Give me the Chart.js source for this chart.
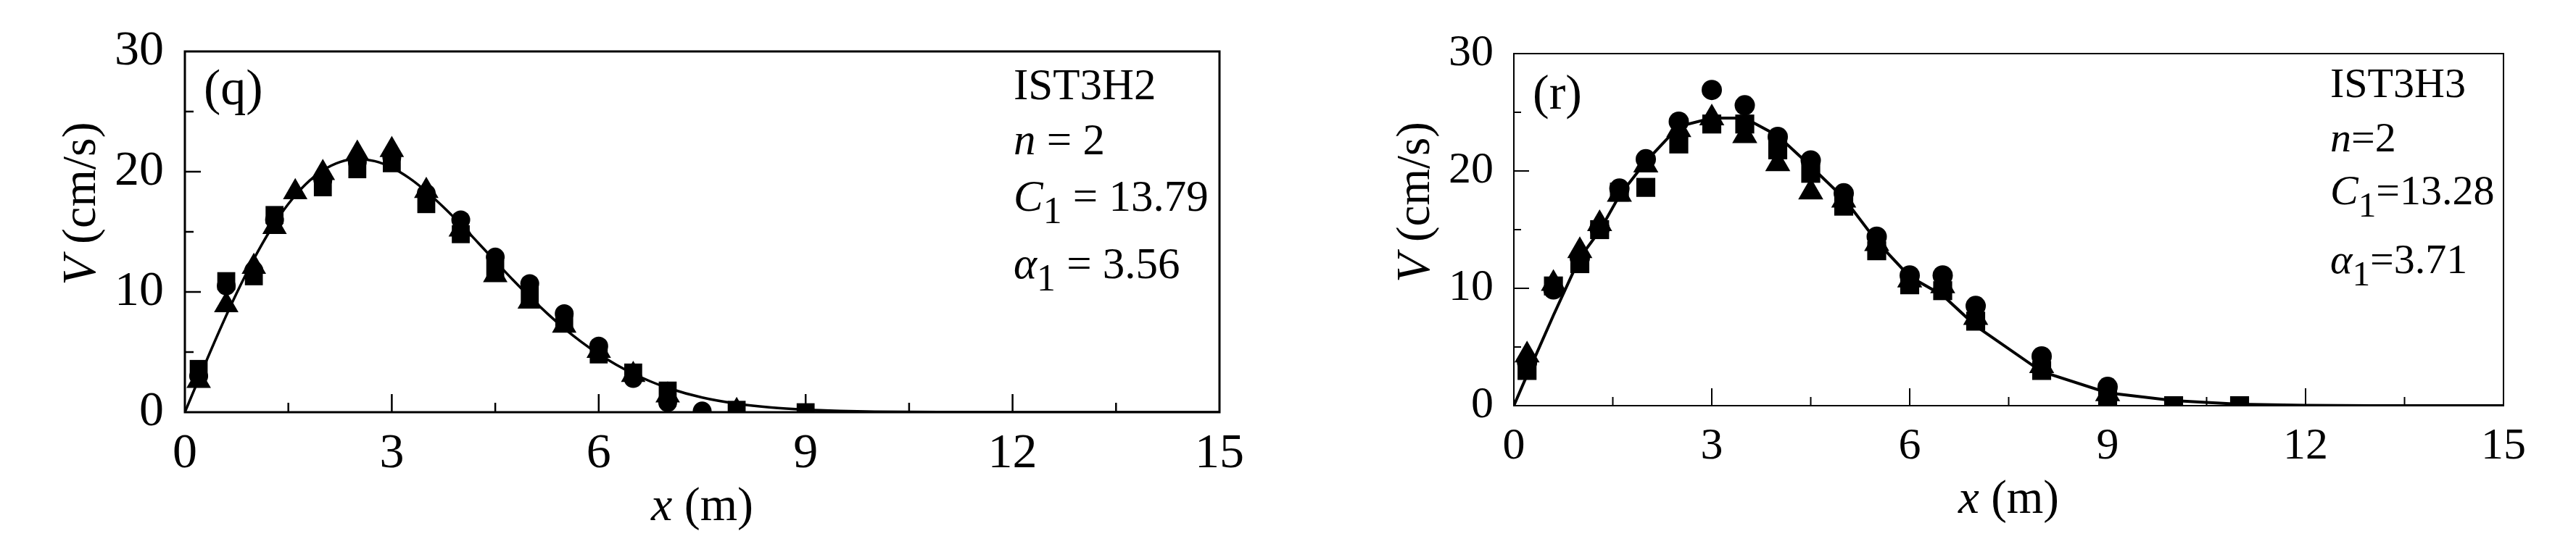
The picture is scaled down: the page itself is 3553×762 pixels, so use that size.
<!DOCTYPE html>
<html><head><meta charset="utf-8">
<script src="https://cdn.jsdelivr.net/npm/chart.js@4/dist/chart.umd.min.js"></script>
<style>
html,body{margin:0;padding:0;background:#fff;}
#wrap{position:relative;width:3553px;height:762px;overflow:hidden;background:#fff;}
.pane{position:absolute;top:0;height:762px;}
canvas{display:block;}
</style></head><body>
<div id="wrap">
<div class="pane" style="left:0;width:1776px"><canvas id="cq" width="1776" height="762"></canvas></div>
<div class="pane" style="left:1776px;width:1777px"><canvas id="cr" width="1777" height="762"></canvas></div>
</div>
<script>
// ---------- tick labels ----------
const xTickLabels = [0, 3, 6, 9, 12, 15];
const yTickLabels = [0, 10, 20, 30];
const xMajorTicks = [3, 6, 9, 12];
const xMinorTicks = [1.5, 4.5, 7.5, 10.5, 13.5];
const yMajorTicks = [10, 20];
const yMinorTicks = [5, 15, 25];

// ---------- panel (q) IST3H2 ----------
const qSquareX = [0.2, 0.6, 1.0, 1.3, 2.0, 2.5, 3.0, 3.5, 4.0, 4.5, 5.0, 5.5, 6.0, 6.5, 7.0, 8.0, 9.0];
const qSquareV = [3.6, 10.9, 11.3, 16.4, 18.7, 20.2, 20.7, 17.3, 14.8, 11.9, 9.8, 7.6, 4.8, 3.3, 1.8, 0.2, 0.0];
const qCircleX = [0.2, 0.6, 1.0, 1.3, 2.0, 2.5, 3.0, 3.5, 4.0, 4.5, 5.0, 5.5, 6.0, 6.5, 7.0, 7.5];
const qCircleV = [3.0, 10.5, 11.8, 16.0, 19.3, 20.8, 21.2, 18.2, 16.0, 12.9, 10.7, 8.2, 5.5, 2.8, 0.8, 0.1];
const qTriangleX = [0.2, 0.6, 1.0, 1.3, 1.6, 2.0, 2.5, 3.0, 3.5, 4.0, 4.5, 5.0, 5.5, 6.0, 6.5, 7.0, 8.0];
const qTriangleV = [2.6, 8.9, 12.1, 15.4, 18.3, 19.9, 21.5, 21.8, 18.4, 15.2, 11.4, 9.2, 7.2, 5.1, 3.1, 1.4, 0.1];
const qCurveX = [0, 0.25, 0.5, 0.75, 1, 1.25, 1.5, 1.75, 2, 2.25, 2.5, 2.75, 3, 3.25, 3.5, 3.75, 4, 4.25, 4.5, 4.75, 5, 5.25, 5.5, 5.75, 6, 6.25, 6.5, 6.75, 7, 7.5, 8, 8.5, 9, 9.5, 10, 11, 12, 13, 14, 15];
const qCurveV = [0, 3.43, 6.76, 9.89, 12.74, 15.24, 17.32, 18.95, 20.11, 20.81, 21.05, 20.88, 20.34, 19.48, 18.36, 17.05, 15.62, 14.10, 12.56, 11.04, 9.59, 8.23, 6.97, 5.84, 4.83, 3.96, 3.20, 2.56, 2.02, 1.22, 0.71, 0.39, 0.21, 0.11, 0.05, 0.01, 0, 0, 0, 0];

// ---------- panel (r) IST3H3 ----------
const rSquareX = [0.2, 0.6, 1.0, 1.3, 1.6, 2.0, 2.5, 3.0, 3.5, 4.0, 4.5, 5.0, 5.5, 6.0, 6.5, 7.0, 8.0, 9.0, 10, 11];
const rSquareV = [3.0, 10.2, 12.1, 15.0, 18.2, 18.6, 22.3, 24.0, 24.0, 21.8, 19.8, 17.0, 13.2, 10.3, 9.8, 7.2, 3.0, 0.6, 0.0, 0.0];
const rCircleX = [0.2, 0.6, 1.0, 1.3, 1.6, 2.0, 2.5, 3.0, 3.5, 4.0, 4.5, 5.0, 5.5, 6.0, 6.5, 7.0, 8.0, 9.0];
const rCircleV = [3.7, 9.9, 12.6, 15.1, 18.5, 21.0, 24.2, 26.9, 25.6, 22.9, 20.9, 18.1, 14.4, 11.1, 11.1, 8.5, 4.2, 1.6];
const rTriangleX = [0.2, 0.6, 1.0, 1.3, 1.6, 2.0, 2.5, 3.0, 3.5, 4.0, 4.5, 5.0, 5.5, 6.0, 6.5, 7.0, 8.0, 9.0];
const rTriangleV = [4.3, 10.4, 13.2, 15.5, 18.0, 20.5, 23.5, 24.5, 23.0, 20.6, 18.2, 17.5, 13.8, 10.7, 10.2, 7.5, 3.4, 1.0];
const rCurveX = [0, 0.2, 0.6, 1.0, 1.3, 1.6, 2.0, 2.5, 3.0, 3.5, 4.0, 4.5, 5.0, 5.5, 6.0, 6.5, 7.0, 8.0, 9.0, 10, 11, 12, 13, 14, 15];
const rCurveV = [0, 2.6, 7.7, 12.6, 14.9, 17.9, 20.8, 23.8, 24.5, 24.5, 23.0, 20.4, 17.7, 14.0, 11.0, 9.4, 6.8, 2.9, 1.1, 0.43, 0.12, 0.03, 0, 0, 0];

// ---------- texts ----------
const qPanelTag = '(q)';
const rPanelTag = '(r)';
const qInfo = [
  [{t: 'IST3H2'}],
  [{t: 'n', i: true}, {t: ' = 2'}],
  [{t: 'C', i: true}, {t: '1', sub: true}, {t: ' = 13.79'}],
  [{t: 'α', i: true}, {t: '1', sub: true}, {t: ' = 3.56'}]
];
const rInfo = [
  [{t: 'IST3H3'}],
  [{t: 'n', i: true}, {t: '=2'}],
  [{t: 'C', i: true}, {t: '1', sub: true}, {t: '=13.28'}],
  [{t: 'α', i: true}, {t: '1', sub: true}, {t: '=3.71'}]
];
const yTitleRuns = [{t: 'V', i: true}, {t: ' (cm/s)'}];
const xTitleRuns = [{t: 'x', i: true}, {t: ' (m)'}];

const FAMILY = '"Liberation Serif", "Times New Roman", Times, serif';
function fontOf(r, size) {
  const s = r.sub ? size * 0.85 : size;
  return (r.i ? 'italic ' : '') + s + 'px ' + FAMILY;
}
function runsWidth(ctx, runs, size) {
  let w = 0;
  for (const r of runs) { ctx.font = fontOf(r, size); w += ctx.measureText(r.t).width; }
  return w;
}
function drawRuns(ctx, x, y, runs, size, align, subDy) {
  const w = runsWidth(ctx, runs, size);
  let cx = align === 'center' ? x - w / 2 : x;
  ctx.textAlign = 'left';
  ctx.textBaseline = 'alphabetic';
  for (const r of runs) {
    ctx.font = fontOf(r, size);
    ctx.fillText(r.t, cx, y + (r.sub ? subDy : 0));
    cx += ctx.measureText(r.t).width;
  }
}

const decoPlugin = {
  id: 'deco',
  afterDraw(chart, args, o) {
    const ctx = chart.ctx;
    const a = chart.chartArea;
    const xs = chart.scales.x, ys = chart.scales.y;
    ctx.save();
    ctx.fillStyle = '#000';
    ctx.strokeStyle = '#000';
    // inward ticks
    ctx.lineWidth = o.tickW;
    ctx.beginPath();
    for (const v of xMajorTicks) { const p = xs.getPixelForValue(v); ctx.moveTo(p, a.bottom); ctx.lineTo(p, a.bottom - o.xMajor); }
    for (const v of xMinorTicks) { const p = xs.getPixelForValue(v); ctx.moveTo(p, a.bottom); ctx.lineTo(p, a.bottom - o.xMinor); }
    for (const v of yMajorTicks) { const p = ys.getPixelForValue(v); ctx.moveTo(a.left, p); ctx.lineTo(a.left + o.yMajor, p); }
    for (const v of yMinorTicks) { const p = ys.getPixelForValue(v); ctx.moveTo(a.left, p); ctx.lineTo(a.left + o.yMinor, p); }
    ctx.stroke();
    // frame
    ctx.lineWidth = o.boxW;
    ctx.strokeRect(a.left, a.top, a.right - a.left, a.bottom - a.top);
    // panel tag
    ctx.font = o.tagSize + 'px ' + FAMILY;
    ctx.textAlign = 'left'; ctx.textBaseline = 'alphabetic';
    ctx.fillText(o.tag, o.tagX, o.tagY);
    // info block
    o.info.forEach((line, k) => drawRuns(ctx, o.infoX, o.infoY[k], line, o.infoSize, 'left', o.subDy));
    // x title
    drawRuns(ctx, (a.left + a.right) / 2, o.xTitleY, xTitleRuns, o.titleSize, 'center', 0);
    // y title
    ctx.translate(o.yTitleX, o.yTitleCY);
    ctx.rotate(-Math.PI / 2);
    drawRuns(ctx, 0, 0, yTitleRuns, o.titleSize, 'center', 0);
    ctx.restore();
  }
};

function pts(xa, va) { return xa.map((x, i) => ({x: x, y: va[i]})); }

function makeChart(id, P) {
  return new Chart(document.getElementById(id), {
    type: 'scatter',
    plugins: [decoPlugin],
    data: {
      datasets: [
        {label: 'fit', data: pts(P.curveX, P.curveV), showLine: true, borderColor: '#000', borderWidth: P.lineW,
         pointRadius: 0, tension: P.tension, cubicInterpolationMode: P.mono ? 'monotone' : 'default', fill: false, order: 4},
        {label: 'series 1', data: pts(P.sqX, P.sqV), pointStyle: 'rect', pointRadius: P.rectR, backgroundColor: '#000', borderColor: '#000', borderWidth: 0, order: 3},
        {label: 'series 2', data: pts(P.ciX, P.ciV), pointStyle: 'circle', pointRadius: P.circR, backgroundColor: '#000', borderColor: '#000', borderWidth: 0, order: 2},
        {label: 'series 3', data: pts(P.trX, P.trV), pointStyle: 'triangle', pointRadius: P.triR, backgroundColor: '#000', borderColor: '#000', borderWidth: 0, order: 1}
      ]
    },
    options: {
      responsive: false, maintainAspectRatio: false, animation: false, devicePixelRatio: 1, events: [],
      layout: {padding: {left: 0, top: P.padTop, right: P.padRight, bottom: 0}},
      plugins: {
        legend: {display: false}, tooltip: {enabled: false},
        deco: P.deco
      },
      scales: {
        x: {
          type: 'linear', min: 0, max: 15,
          afterBuildTicks: s => { s.ticks = xTickLabels.map(v => ({value: v})); },
          afterFit: s => { s.height = P.xAxisH; },
          grid: {display: false, drawTicks: false}, border: {display: false},
          ticks: {color: '#000', autoSkip: false, maxRotation: 0, padding: P.xPad, font: {family: FAMILY, size: P.tickSize}}
        },
        y: {
          type: 'linear', min: 0, max: 30,
          afterBuildTicks: s => { s.ticks = yTickLabels.map(v => ({value: v})); },
          afterFit: s => { s.width = P.yAxisW; },
          grid: {display: false, drawTicks: false}, border: {display: false},
          ticks: {color: '#000', autoSkip: false, padding: P.yPad, font: {family: FAMILY, size: P.tickSize}}
        }
      }
    }
  });
}

makeChart('cq', {
  curveX: qCurveX, curveV: qCurveV, sqX: qSquareX, sqV: qSquareV, ciX: qCircleX, ciV: qCircleV, trX: qTriangleX, trV: qTriangleV,
  lineW: 3.5, tension: 0.4, mono: true, rectR: 17.5, circR: 13, triR: 19.5,
  padTop: 71, padRight: 94, xAxisH: 193, yAxisW: 255, xPad: 17, yPad: 29, tickSize: 68,
  deco: {tickW: 2.5, xMajor: 25, xMinor: 13, yMajor: 22, yMinor: 12, boxW: 3,
         tag: qPanelTag, tagSize: 70, tagX: 281, tagY: 144,
         info: qInfo, infoX: 1398, infoY: [137, 213, 291, 384], infoSize: 61, subDy: 17,
         titleSize: 66, xTitleY: 718, yTitleX: 131, yTitleCY: 281}
});

makeChart('cr', {
  curveX: rCurveX, curveV: rCurveV, sqX: rSquareX, sqV: rSquareV, ciX: rCircleX, ciV: rCircleV, trX: rTriangleX, trV: rTriangleV,
  lineW: 4, tension: 0, mono: false, rectR: 18.5, circR: 14, triR: 20,
  padTop: 74, padRight: 100, xAxisH: 202, yAxisW: 312, xPad: 20, yPad: 28, tickSize: 62,
  deco: {tickW: 2, xMajor: 24, xMinor: 12, yMajor: 21, yMinor: 10, boxW: 2,
         tag: rPanelTag, tagSize: 68, tagX: 338, tagY: 150,
         info: rInfo, infoX: 1438, infoY: [134, 209, 282, 377], infoSize: 58, subDy: 17,
         titleSize: 65, xTitleY: 708, yTitleX: 195, yTitleCY: 279}
});
</script>
</body></html>
